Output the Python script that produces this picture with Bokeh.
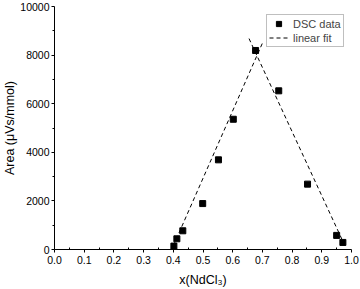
from bokeh.plotting import figure
from bokeh.models import Range1d, FixedTicker, Legend, LegendItem
from bokeh.embed import file_html
from bokeh.resources import INLINE

# DSC data points
x_data = [0.402, 0.412, 0.432, 0.499, 0.552, 0.602, 0.677, 0.755, 0.852, 0.950, 0.971]
y_data = [140, 440, 770, 1890, 3690, 5360, 8190, 6530, 2690, 580, 290]

# linear fit segments (end points)
fit_left_x = [0.400, 0.700]
fit_left_y = [150, 8490]
fit_right_x = [0.655, 0.975]
fit_right_y = [8680, 230]

x_ticks = [0.0, 0.1, 0.2, 0.3, 0.4, 0.5, 0.6, 0.7, 0.8, 0.9, 1.0]
x_tick_labels = ["0.0", "0.1", "0.2", "0.3", "0.4", "0.5", "0.6", "0.7", "0.8", "0.9", "1.0"]
x_minor = [0.05, 0.15, 0.25, 0.35, 0.45, 0.55, 0.65, 0.75, 0.85, 0.95]
y_ticks = [0, 2000, 4000, 6000, 8000, 10000]
y_minor = [1000, 3000, 5000, 7000, 9000]

FONT = "Liberation Sans"

p = figure(width=360, height=289, x_range=Range1d(0, 1), y_range=Range1d(0, 10000),
           output_backend="svg", toolbar_location=None,
           min_border_left=51, min_border_right=9, min_border_top=6, min_border_bottom=40)
p.outline_line_color = None
p.xgrid.visible = False
p.ygrid.visible = False

p.xaxis.ticker = FixedTicker(ticks=x_ticks, minor_ticks=x_minor)
p.xaxis.major_label_overrides = {t: l for t, l in zip(x_ticks, x_tick_labels)}
p.yaxis.ticker = FixedTicker(ticks=y_ticks, minor_ticks=y_minor)
p.yaxis.major_label_overrides = {t: str(t) for t in y_ticks}

for ax in (p.xaxis, p.yaxis):
    ax.axis_line_color = "black"
    ax.major_tick_line_color = "black"
    ax.minor_tick_line_color = "black"
    ax.major_tick_out = 3
    ax.major_tick_in = 0
    ax.major_label_text_font = FONT
    ax.major_label_text_font_size = "10.5px"
    ax.major_label_text_color = "black"
    ax.axis_label_text_font = FONT
    ax.axis_label_text_font_style = "normal"
    ax.axis_label_text_color = "black"

p.xaxis.minor_tick_in = 2
p.xaxis.minor_tick_out = 0
p.yaxis.minor_tick_in = 0
p.yaxis.minor_tick_out = 2

p.xaxis.axis_label = "x(NdCl\u2083)"
p.xaxis.axis_label_text_font_size = "12.5px"
p.xaxis.major_label_standoff = 3
p.xaxis.axis_label_standoff = 6
p.yaxis.axis_label = "Area (\u03bcVs/mmol)"
p.yaxis.axis_label_text_font_size = "12.5px"
p.yaxis.major_label_standoff = 2
p.yaxis.axis_label_standoff = 0

fit = p.multi_line(xs=[fit_left_x, fit_right_x], ys=[fit_left_y, fit_right_y],
                   line_color="black", line_width=1, line_dash="4 3")
pts = p.scatter(x_data, y_data, marker="square", size=6, fill_color="black", line_color="black")

legend = Legend(items=[LegendItem(label="DSC data", renderers=[pts]),
                       LegendItem(label="linear fit", renderers=[fit])],
                location=(212, 202),
                label_text_font=FONT, label_text_font_size="11px",
                label_height=13, glyph_height=13, glyph_width=19, label_standoff=5,
                spacing=1, padding=2,
                border_line_color="#808080", border_line_width=1,
                background_fill_color="white", background_fill_alpha=1)
p.add_layout(legend)

open("out.html", "w").write(file_html(p, INLINE))
